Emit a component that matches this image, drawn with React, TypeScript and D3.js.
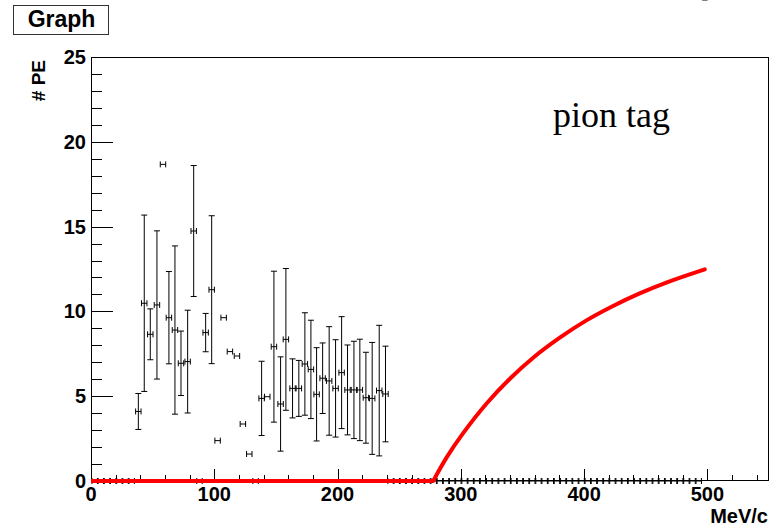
import React from 'react';
import * as d3 from 'd3';

// ---- data ----
const pointX = [
  3, 8, 13, 18, 23, 28, 33,
  38.4, 43.2, 48.1, 53.5, 58.4, 63.2, 68.1, 73.0, 78.4, 83.3, 88, 93.0, 97.9,
  102.7, 107.6, 112.7, 118.4, 123.2, 128.4, 133.5, 138.4, 143.0, 148.4, 153.8,
  158.1, 163.5, 168.6, 173.5, 178.4, 183.0, 187.9, 193.2, 198.4, 203.3, 208.1,
  213.3, 218.1, 223.0, 228.1, 233.8, 238.9,
  243, 248, 253, 258, 263, 268, 273, 278, 283, 288, 293, 298, 303, 308, 313,
  318, 323, 328, 333, 338, 343, 348, 353, 358, 363, 368, 373, 378, 383, 388,
  393, 398, 403, 408, 413, 418, 423, 428, 433, 438, 443, 448, 453, 458, 463,
  468, 473, 478, 483, 488, 493, 498,
];
const pointY = [
  0, 0, 0, 0, 0, 0, 0,
  4.1, 10.48, 8.65, 10.38, 18.67, 9.63, 8.9, 6.94, 7.04, 14.74, 0, 8.75, 11.28,
  2.38, 9.63, 7.63, 7.37, 3.36, 1.59, 0, 4.87, 4.97, 7.92, 4.54,
  8.35, 5.46, 5.46, 6.9, 6.58, 5.11, 6.06, 5.9, 5.46, 6.39, 5.37,
  5.37, 5.37, 4.91, 4.87, 5.33, 5.13,
  0, 0, 0, 0, 0, 0, 0, 0, 0, 0, 0, 0, 0, 0, 0,
  0, 0, 0, 0, 0, 0, 0, 0, 0, 0, 0, 0, 0, 0, 0,
  0, 0, 0, 0, 0, 0, 0, 0, 0, 0, 0, 0, 0, 0, 0,
  0, 0, 0, 0, 0, 0,
];
const pointErrY = [
  0, 0, 0, 0, 0, 0, 0,
  1.06, 5.2, 1.5, 4.37, 0, 2.72, 4.96, 1.9, 3.03, 3.86, 0, 1.13, 4.36,
  0, 0, 0, 0, 0, 0, 0, 2.19, 0, 4.45, 2.78,
  4.18, 1.74, 1.65, 3.02, 2.9, 2.75, 2.08, 3.2, 2.87, 3.3, 2.65,
  2.87, 2.99, 2.68, 3.3, 3.85, 2.82,
  0, 0, 0, 0, 0, 0, 0, 0, 0, 0, 0, 0, 0, 0, 0,
  0, 0, 0, 0, 0, 0, 0, 0, 0, 0, 0, 0, 0, 0, 0,
  0, 0, 0, 0, 0, 0, 0, 0, 0, 0, 0, 0, 0, 0, 0,
  0, 0, 0, 0, 0, 0,
];
const pointErrX = 2.2;

const flatX = [0, 277.6];
const flatY = [0, 0];
const curveX = [277.6, 288.4, 301.9, 320.9, 339.8, 358.7, 380.3, 401.9, 423.5, 445.1, 466.7, 497.9];
const curveY = [0, 1.38, 2.82, 4.57, 6.03, 7.27, 8.45, 9.47, 10.32, 11.06, 11.7, 12.48];

const xTickLabels = [0, 100, 200, 300, 400, 500];
const yTickLabels = [0, 5, 10, 15, 20, 25];

const title = 'Graph';
const xTitle = 'MeV/c';
const yTitle = '# PE';
const note = 'pion tag';

export default function App() {
  const left = 91, right = 769, top = 57, bottom = 481;
  const x = d3.scaleLinear().domain([0, 550]).range([left, right]);
  const y = d3.scaleLinear().domain([0, 25]).range([bottom, top]);

  const sans = '"Liberation Sans", Arial, Helvetica, sans-serif';

  const xSecondary = d3.range(0, 551, 20);
  const yMinor = d3.range(0, 26, 1);

  const flatLine = d3.line<number>().x((d, i) => x(flatX[i])).y((d, i) => y(flatY[i]));
  const curveLine = d3
    .line<number>()
    .x((d, i) => x(curveX[i]))
    .y((d, i) => y(curveY[i]))
    .curve(d3.curveCatmullRom.alpha(0.5));

  const capW = 3;
  const capH = 3;

  return (
    <svg
      width={780}
      height={528}
      style={{ position: 'absolute', left: 0, top: 0, background: '#fff' }}
    >
      <rect x={0} y={0} width={780} height={528} fill="#fff" />
      {/* title box */}
      <rect x={13.5} y={5.5} width={95} height={29} fill="#fff" stroke="#333" strokeWidth={1} />
      <text x={61.5} y={27} textAnchor="middle" fontFamily={sans} fontWeight="bold" fontSize={23} fill="#000">
        {title}
      </text>

      {/* frame */}
      <rect x={left + 0.5} y={top + 0.5} width={right - left - 1} height={bottom - top - 1} fill="none" stroke="#000" strokeWidth={1} />

      {/* y ticks */}
      {yMinor.map((v) => {
        const major = v % 5 === 0;
        const yy = Math.round(y(v)) + 0.5;
        return <line key={'ym' + v} x1={left} x2={left + (major ? 22 : 11)} y1={yy} y2={yy} stroke="#000" strokeWidth={1} />;
      })}
      {/* x ticks */}
      {xSecondary.map((v) => {
        const major = v % 100 === 0;
        const xx = Math.round(x(v)) + 0.5;
        return <line key={'xs' + v} x1={xx} x2={xx} y1={bottom} y2={bottom - (major ? 12 : 6)} stroke="#000" strokeWidth={1} />;
      })}

      {/* tick labels */}
      {xTickLabels.map((v) => (
        <text key={'xl' + v} x={x(v)} y={500.5} textAnchor="middle" fontFamily={sans} fontWeight="bold" fontSize={20} fill="#000">
          {v}
        </text>
      ))}
      {yTickLabels.map((v) => (
        <text key={'yl' + v} x={86} y={y(v) + 7} textAnchor="end" fontFamily={sans} fontWeight="bold" fontSize={20} fill="#000">
          {v}
        </text>
      ))}

      {/* axis titles */}
      <text x={768} y={523} textAnchor="end" fontFamily={sans} fontWeight="bold" fontSize={20} fill="#000">
        {xTitle}
      </text>
      <text transform="translate(44.5,60) rotate(-90)" textAnchor="end" fontFamily={sans} fontWeight="bold" fontSize={19} fill="#000">
        {yTitle}
      </text>

      {/* error bar points */}
      <g stroke="#000" strokeWidth={1} fill="none">
        {pointX.map((px, i) => {
          const cx = x(px);
          const cy = y(pointY[i]);
          const x0 = x(px - pointErrX);
          const x1 = x(px + pointErrX);
          const ey = pointErrY[i];
          return (
            <g key={'p' + i}>
              <line x1={x0} x2={x1} y1={cy} y2={cy} />
              <line x1={x0} x2={x0} y1={cy - capH} y2={cy + capH} />
              <line x1={x1} x2={x1} y1={cy - capH} y2={cy + capH} />
              {ey > 0 && (
                <>
                  <line x1={cx} x2={cx} y1={y(pointY[i] + ey)} y2={y(pointY[i] - ey)} />
                  <line x1={cx - capW} x2={cx + capW} y1={y(pointY[i] + ey)} y2={y(pointY[i] + ey)} />
                  <line x1={cx - capW} x2={cx + capW} y1={y(pointY[i] - ey)} y2={y(pointY[i] - ey)} />
                </>
              )}
            </g>
          );
        })}
      </g>

      {/* red curve */}
      <path d={flatLine(flatX) || ''} fill="none" stroke="#ff0000" strokeWidth={4} />
      <path d={curveLine(curveX) || ''} fill="none" stroke="#ff0000" strokeWidth={4} strokeLinecap="round" />

      {/* annotation */}
      <text x={553} y={127} fontFamily='"Liberation Serif", "Times New Roman", serif' fontSize={36} fill="#000">
        {note}
      </text>
    </svg>
  );
}
